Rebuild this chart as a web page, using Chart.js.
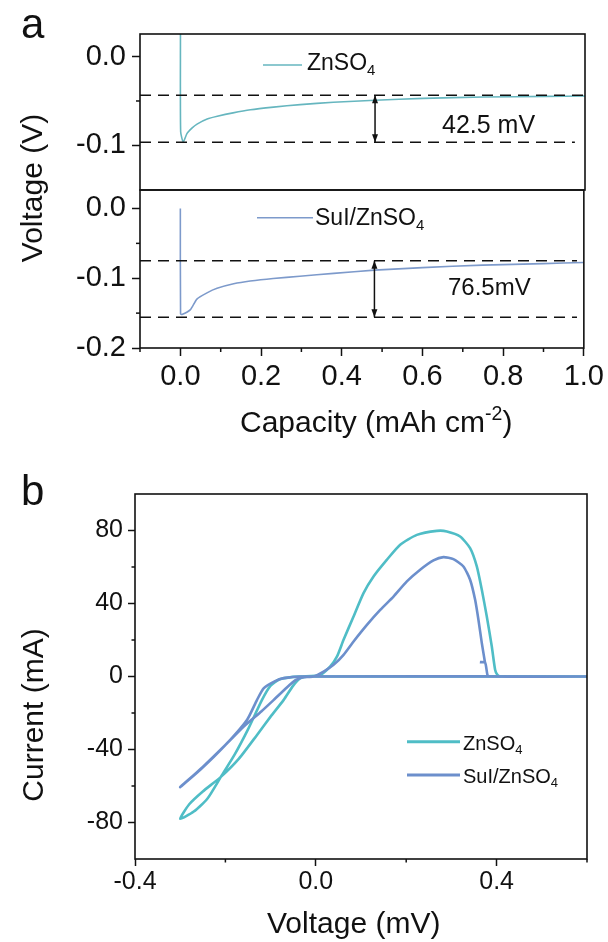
<!DOCTYPE html>
<html>
<head>
<meta charset="utf-8">
<script src="https://cdn.jsdelivr.net/npm/chart.js@4.4.0/dist/chart.umd.min.js"></script>
<style>
  html, body { margin: 0; padding: 0; background: #fff; }
  #wrap { position: relative; width: 608px; height: 942px; overflow: hidden; }
  canvas { position: absolute; left: 0; }
</style>
</head>
<body>
<div id="wrap">
  <canvas id="a1" width="608" height="230" style="top:0;width:608px;height:230px"></canvas>
  <canvas id="a2" width="608" height="450" style="top:0;width:608px;height:450px"></canvas>
  <canvas id="b" width="608" height="502" style="top:440px;width:608px;height:502px"></canvas>
</div>
<script>
// ---- panel a : galvanostatic curves ----
const capTicks = [0, 0.2, 0.4, 0.6, 0.8, 1.0];
const capMinor = [-0.1, 0.1, 0.3, 0.5, 0.7, 0.9];
const voltTicksTop = [-0.1, 0.0];
const voltMinorTop = [-0.05];
const voltTicksBot = [-0.2, -0.1, 0.0];
const voltMinorBot = [-0.15, -0.05];

const capZn  = [0, 0.0005, 0.007, 0.016, 0.029, 0.041, 0.066, 0.091, 0.13, 0.173, 0.23, 0.296, 0.378, 0.481, 0.6, 0.749, 0.9, 1.0];
const voltZn = [0.026, -0.085, -0.0966, -0.087, -0.0805, -0.0762, -0.0705, -0.0674, -0.0635, -0.0600, -0.0570, -0.0541, -0.0515, -0.0492, -0.047, -0.0455, -0.0448, -0.0444];

const capSul  = [0, 0.0005, 0.004, 0.025, 0.041, 0.066, 0.091, 0.132, 0.173, 0.23, 0.296, 0.38, 0.481, 0.6, 0.749, 0.9, 1.0];
const voltSul = [0.0, -0.151, -0.152, -0.145, -0.130, -0.121, -0.1145, -0.108, -0.104, -0.1003, -0.0972, -0.093, -0.0884, -0.0848, -0.0812, -0.079, -0.0774];

// reference (dashed) levels and the arrow between them
const refTop = { hi: -0.0435, lo: -0.0969, hiEnd: 1.0, loEnd: 0.975 };
const refBot = { hi: -0.0749, lo: -0.156, hiEnd: 0.983, loEnd: 0.983 };
const arrowCap = 0.481;
const labelTop = '42.5 mV';
const labelBot = '76.5mV';

// ---- panel b : CV curves ----
const cvVoltTicks = [-0.4, 0.0, 0.4];
const cvVoltMinor = [-0.2, 0.2, 0.6];
const cvCurrTicks = [-80, -40, 0, 40, 80];
const cvCurrMinor = [-60, -20, 20, 60];

const voltZnCV = [0.6, -0.015, -0.034, -0.05, -0.071, -0.1, -0.13, -0.17, -0.21, -0.25, -0.28, -0.3,
  -0.27, -0.24, -0.21, -0.18, -0.15, -0.119, -0.1, -0.08, -0.05, -0.03, 0.0099, 0.032, 0.047, 0.0614,
  0.0835, 0.1056, 0.1277, 0.157, 0.1867, 0.2236, 0.2678, 0.29, 0.3193, 0.3414, 0.3562, 0.3673, 0.3783,
  0.3894, 0.3967, 0.4018, 0.41, 0.6];
const currZnCV = [0, 0, -0.9, -5, -12.8, -22, -32, -45, -55, -63, -70, -78,
  -74, -67, -55, -43, -29, -12.8, -5, -1.5, -0.2, 0, 0.9, 5.5, 11, 20.1,
  32.9, 45.7, 54.8, 63.9, 72.2, 77.6, 79.8, 79.5, 76.7, 70.3, 60.3, 47.5, 32.9,
  16.4, 3.7, 0.9, 0, 0];

const voltSulCV = [0.363, 0.3746, 0.3797, 0.384, 0.6, -0.034, -0.071, -0.09, -0.115, -0.13, -0.152, -0.196,
  -0.255, -0.3, -0.25, -0.2, -0.16, -0.12, -0.093, -0.064, -0.045, -0.03, -0.005, 0.0172, 0.0393, 0.0614,
  0.0835, 0.1131, 0.1425, 0.1719, 0.2015, 0.2309, 0.2603, 0.2824, 0.3045, 0.3266, 0.3414, 0.3525, 0.3598,
  0.3673, 0.3746];
const currSulCV = [7.9, 7.6, 0.9, 0, 0, 0, -0.9, -2.5, -6.4, -12.8, -23.7, -36.5,
  -51, -60.6, -49.5, -37.5, -27.5, -19, -12.8, -6, -2, -0.5, 0, 2.7, 6.4, 11.9,
  19.2, 28.3, 36.5, 43.8, 52.1, 58.5, 63.6, 65.4, 64.3, 60.3, 53, 42, 31.1,
  18.3, 7.3];

const INK = '#111';
const FONT = '"Liberation Sans", Arial, Helvetica, sans-serif';
const tealA = '#66b6bf', blueA = '#7d9acb';
const tealB = '#4fbdc6', blueB = '#6c8fcc';

Chart.defaults.font.family = FONT;
Chart.defaults.color = INK;

const pts = (xs, ys) => xs.map((x, i) => ({ x: x, y: ys[i] }));
const fmt1 = v => v.toFixed(1);

function axis(min, max, ticks, o) {
  return {
    type: 'linear', min: min, max: max, display: o.display !== false,
    afterBuildTicks: s => { s.ticks = ticks.map(v => ({ value: v })); },
    afterFit: s => { if (o.width) s.width = o.width; if (o.height) s.height = o.height; },
    ticks: { font: { size: o.font }, color: INK, padding: o.pad, autoSkip: false, maxRotation: 0, callback: o.fmt },
    grid: { drawOnChartArea: false, tickLength: o.len, tickWidth: 1.5, tickColor: INK },
    border: { display: false }
  };
}

function drawRich(ctx, t, offY) {
  ctx.save();
  ctx.translate(t.x, t.y - offY);
  if (t.rot) ctx.rotate(-Math.PI / 2);
  const sizeOf = k => (k ? t.size * 0.65 : t.size);
  let w = 0;
  t.parts.forEach(p => { ctx.font = sizeOf(p[1]) + 'px ' + FONT; w += ctx.measureText(p[0]).width; });
  let x = t.align === 'center' ? -w / 2 : 0;
  ctx.fillStyle = INK;
  ctx.textBaseline = 'alphabetic';
  ctx.textAlign = 'left';
  t.parts.forEach(p => {
    ctx.font = sizeOf(p[1]) + 'px ' + FONT;
    const dy = p[1] === 'sub' ? t.size * 0.2 : p[1] === 'sup' ? -t.size * 0.4 : 0;
    ctx.fillText(p[0], x, dy);
    x += ctx.measureText(p[0]).width;
  });
  ctx.restore();
}

const decor = {
  id: 'decor',
  afterDraw(chart, args, o) {
    const ctx = chart.ctx, a = chart.chartArea, offY = o.offY || 0;
    ctx.save();
    ctx.strokeStyle = INK;
    ctx.lineWidth = 1.5;
    (o.minor || []).forEach(m => {
      const s = chart.scales[m.axis];
      m.values.forEach(v => {
        const p = s.getPixelForValue(v);
        ctx.beginPath();
        if (m.axis === 'x') { ctx.moveTo(p, a.bottom); ctx.lineTo(p, a.bottom + m.len); }
        else { ctx.moveTo(a.left, p); ctx.lineTo(a.left - m.len, p); }
        ctx.stroke();
      });
    });
    ctx.lineWidth = 1.6;
    ctx.strokeRect(a.left, a.top, a.right - a.left, a.bottom - a.top);
    if (o.arrow !== undefined) {
      const pp = chart.getDatasetMeta(o.arrow).data;
      const x = pp[0].x, y0 = pp[0].y, y1 = pp[1].y;
      ctx.fillStyle = INK;
      ctx.beginPath();
      ctx.moveTo(x, y0); ctx.lineTo(x - 3, y0 + 8); ctx.lineTo(x + 3, y0 + 8); ctx.closePath(); ctx.fill();
      ctx.beginPath();
      ctx.moveTo(x, y1); ctx.lineTo(x - 3, y1 - 8); ctx.lineTo(x + 3, y1 - 8); ctx.closePath(); ctx.fill();
    }
    (o.keys || []).forEach(k => {
      ctx.strokeStyle = k.color; ctx.lineWidth = k.w;
      ctx.beginPath(); ctx.moveTo(k.x0, k.y - offY); ctx.lineTo(k.x1, k.y - offY); ctx.stroke();
    });
    (o.texts || []).forEach(t => drawRich(ctx, t, offY));
    ctx.restore();
  }
};

const base = { responsive: false, animation: false, events: [], maintainAspectRatio: false };
const lineDs = (data, color, w, extra) => Object.assign({
  data: data, showLine: true, borderColor: color, borderWidth: w, pointRadius: 0, fill: false, tension: 0.3
}, extra || {});

// top of panel a
new Chart(document.getElementById('a1'), {
  type: 'scatter',
  data: { datasets: [
    lineDs(pts([-0.1, refTop.hiEnd], [refTop.hi, refTop.hi]), INK, 1.5, { borderDash: [11, 7], tension: 0 }),
    lineDs(pts([-0.1, refTop.loEnd], [refTop.lo, refTop.lo]), INK, 1.5, { borderDash: [11, 7], tension: 0 }),
    lineDs(pts([arrowCap, arrowCap], [refTop.hi, refTop.lo]), INK, 1.5, { tension: 0 }),
    lineDs(pts(capZn, voltZn), tealA, 1.6, { tension: 0.2 })
  ] },
  options: Object.assign({}, base, {
    layout: { padding: { left: 0, right: 23, top: 34, bottom: 40 } },
    scales: {
      x: axis(-0.1, 1.0, capTicks, { display: false }),
      y: axis(-0.151, 0.026, voltTicksTop, { width: 140, font: 29, pad: 6, len: 8, fmt: fmt1 })
    },
    plugins: {
      legend: { display: false }, tooltip: { enabled: false },
      decor: {
        arrow: 2,
        minor: [{ axis: 'y', values: voltMinorTop, len: 4 }],
        keys: [{ x0: 263, x1: 302, y: 65, color: tealA, w: 1.6 }],
        texts: [
          { x: 21, y: 38, size: 42, parts: [['a']] },
          { x: 307, y: 70, size: 23, parts: [['ZnSO'], ['4', 'sub']] },
          { x: 442, y: 133, size: 25, parts: [[labelTop]] }
        ]
      }
    }
  }),
  plugins: [decor]
});

// bottom of panel a
new Chart(document.getElementById('a2'), {
  type: 'scatter',
  data: { datasets: [
    lineDs(pts([-0.1, refBot.hiEnd], [refBot.hi, refBot.hi]), INK, 1.5, { borderDash: [11, 7], tension: 0 }),
    lineDs(pts([-0.1, refBot.loEnd], [refBot.lo, refBot.lo]), INK, 1.5, { borderDash: [11, 7], tension: 0 }),
    lineDs(pts([arrowCap, arrowCap], [refBot.hi, refBot.lo]), INK, 1.5, { tension: 0 }),
    lineDs(pts(capSul, voltSul), blueA, 1.6, { tension: 0.2 })
  ] },
  options: Object.assign({}, base, {
    layout: { padding: { left: 0, right: 23, top: 190, bottom: 42 } },
    scales: {
      x: axis(-0.1, 1.0, capTicks, { height: 60, font: 29, pad: 4, len: 8, fmt: fmt1 }),
      y: axis(-0.2, 0.0265, voltTicksBot, { width: 140, font: 29, pad: 6, len: 8, fmt: fmt1 })
    },
    plugins: {
      legend: { display: false }, tooltip: { enabled: false },
      decor: {
        arrow: 2,
        minor: [{ axis: 'y', values: voltMinorBot, len: 4 }, { axis: 'x', values: capMinor, len: 4 }],
        keys: [{ x0: 257, x1: 313, y: 217.7, color: blueA, w: 1.6 }],
        texts: [
          { x: 315, y: 225, size: 23, parts: [['SuI/ZnSO'], ['4', 'sub']] },
          { x: 448, y: 295, size: 24, parts: [[labelBot]] },
          { x: 240, y: 432, size: 30, parts: [['Capacity (mAh cm'], ['-2', 'sup'], [')']] },
          { x: 42, y: 188, size: 30, rot: true, align: 'center', parts: [['Voltage (V)']] }
        ]
      }
    }
  }),
  plugins: [decor]
});

// panel b
new Chart(document.getElementById('b'), {
  type: 'scatter',
  data: { datasets: [
    lineDs(pts(voltZnCV, currZnCV), tealB, 2.6, { tension: 0.2, order: 2 }),
    lineDs(pts(voltSulCV, currSulCV), blueB, 2.6, { tension: 0.2, order: 1 })
  ] },
  options: Object.assign({}, base, {
    layout: { padding: { left: 0, right: 21, top: 54, bottom: 0 } },
    scales: {
      x: axis(-0.4, 0.6, cvVoltTicks, { height: 83, font: 25, pad: 1, len: 7, fmt: fmt1 }),
      y: axis(-100, 100, cvCurrTicks, { width: 135, font: 25, pad: 5, len: 7, fmt: v => String(v) })
    },
    plugins: {
      legend: { display: false }, tooltip: { enabled: false },
      decor: {
        offY: 440,
        minor: [{ axis: 'y', values: cvCurrMinor, len: 3.5 }, { axis: 'x', values: cvVoltMinor, len: 3.5 }],
        keys: [
          { x0: 407, x1: 460, y: 741.7, color: tealB, w: 3 },
          { x0: 407, x1: 460, y: 775, color: blueB, w: 3 }
        ],
        texts: [
          { x: 21, y: 505, size: 42, parts: [['b']] },
          { x: 463, y: 750, size: 20, parts: [['ZnSO'], ['4', 'sub']] },
          { x: 463, y: 783, size: 20, parts: [['SuI/ZnSO'], ['4', 'sub']] },
          { x: 267, y: 933, size: 30, parts: [['Voltage (mV)']] },
          { x: 43, y: 715, size: 30, rot: true, align: 'center', parts: [['Current (mA)']] }
        ]
      }
    }
  }),
  plugins: [decor]
});
</script>
</body>
</html>
